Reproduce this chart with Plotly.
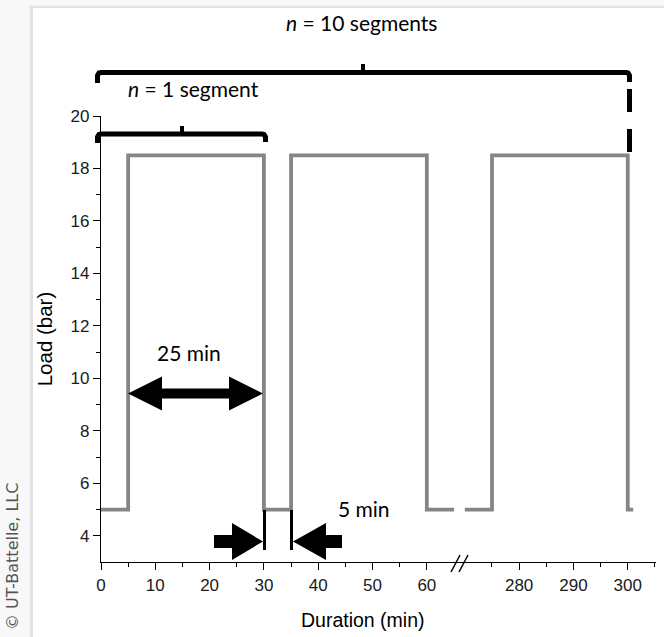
import plotly.graph_objects as go

# ---------------- data ----------------
seg1_time = [0, 5, 5, 30, 30, 35, 35, 60, 60, 65]
seg1_load = [5, 5, 18.5, 18.5, 5, 5, 18.5, 18.5, 5, 5]
seg2_time = [270, 275, 275, 300, 300, 301]
seg2_load = [5, 5, 18.5, 18.5, 5, 5]

x1_ticks = [0, 10, 20, 30, 40, 50, 60]
x1_minor = [5, 15, 25, 35, 45, 55]
x2_ticks = [280, 290, 300]
x2_minor = [275, 285, 295, 305]
y_ticks = [4, 6, 8, 10, 12, 14, 16, 18, 20]
y_minor = [5, 7, 9, 11, 13, 15, 17, 19]

x1_range = [0, 65.7]
x2_range = [268.7, 305.2]
y_range = [3, 20]

# ---------------- layout geometry ----------------
W, H = 664, 637
L, R, T, B = 101, 656, 116, 562  # plot area in pixels


def px(x):
    return (x - L) / (R - L)


def py(y):
    return (B - y) / (B - T)


def path(points, close=False):
    s = "M " + " L ".join(f"{px(x):.5f},{py(y):.5f}" for x, y in points)
    return s + (" Z" if close else "")


span1 = x1_range[1] - x1_range[0]
span2 = x2_range[1] - x2_range[0]
split = span1 / (span1 + span2)

LINE_COLOR = "#858585"

fig = go.Figure()
fig.add_trace(go.Scatter(x=seg1_time, y=seg1_load, mode="lines",
                         line=dict(color=LINE_COLOR, width=3.8),
                         xaxis="x", yaxis="y", showlegend=False, hoverinfo="skip"))
fig.add_trace(go.Scatter(x=seg2_time, y=seg2_load, mode="lines",
                         line=dict(color=LINE_COLOR, width=3.8),
                         xaxis="x2", yaxis="y", showlegend=False, hoverinfo="skip"))

tick_font = dict(family="Liberation Sans, Arial", size=17, color="#1a1a1a")
axis_common = dict(showline=True, linecolor="black", linewidth=1.2, ticks="outside",
                   ticklen=7, tickwidth=1.2, tickcolor="black", showgrid=False,
                   zeroline=False, tickfont=tick_font, fixedrange=True)

shapes = []
# background shadow of the card
shapes.append(dict(type="rect", xref="paper", yref="paper", x0=px(0), x1=px(33),
                   y0=py(H), y1=py(0), fillcolor="#f8f8f8", line=dict(width=0), layer="below"))
shapes.append(dict(type="rect", xref="paper", yref="paper", x0=px(0), x1=px(W),
                   y0=py(8), y1=py(0), fillcolor="#f8f8f8", line=dict(width=0), layer="below"))
for i, c in enumerate(["#f0f0f0", "#e8e8e8", "#e0e0e0"]):
    shapes.append(dict(type="rect", xref="paper", yref="paper", x0=px(29 + i), x1=px(33),
                       y0=py(H), y1=py(8), fillcolor=c, line=dict(width=0), layer="below"))
    shapes.append(dict(type="rect", xref="paper", yref="paper", x0=px(29), x1=px(W),
                       y0=py(8), y1=py(5 + i), fillcolor=c, line=dict(width=0), layer="below"))

blk = dict(color="black", width=5)
# big bracket (n = 10)
shapes.append(dict(type="path", xref="paper", yref="paper",
                   path=path([(97.5, 83), (97.5, 75.5), (99, 73), (101, 72.5), (626, 72.5), (628, 73), (629.5, 75.5), (629.5, 82)]),
                   line=blk))
shapes.append(dict(type="line", xref="paper", yref="paper", x0=px(363), x1=px(363),
                   y0=py(72), y1=py(64), line=dict(color="black", width=4)))
shapes.append(dict(type="line", xref="paper", yref="paper", x0=px(629.5), x1=px(629.5),
                   y0=py(89), y1=py(112), line=blk))
shapes.append(dict(type="line", xref="paper", yref="paper", x0=px(629.5), x1=px(629.5),
                   y0=py(129), y1=py(152), line=blk))
# small bracket (n = 1)
shapes.append(dict(type="path", xref="paper", yref="paper",
                   path=path([(97.5, 143), (97.5, 137), (99, 134.5), (101, 134), (262, 134), (264, 134.5), (265.5, 137), (265.5, 142)]),
                   line=blk))
shapes.append(dict(type="line", xref="paper", yref="paper", x0=px(182), x1=px(182),
                   y0=py(134), y1=py(126), line=dict(color="black", width=4)))

# double arrow (25 min)
shapes.append(dict(type="path", xref="paper", yref="paper",
                   path=path([(128, 393.5), (162, 376.5), (162, 388.5), (229, 388.5), (229, 376.5),
                              (263, 393.5), (229, 410.5), (229, 398.5), (162, 398.5), (162, 410.5)], close=True),
                   fillcolor="black", line=dict(width=0)))
# 5 min arrows
shapes.append(dict(type="path", xref="paper", yref="paper",
                   path=path([(214, 535), (232, 535), (232, 523), (263, 541.5), (232, 560), (232, 548), (214, 548)], close=True),
                   fillcolor="black", line=dict(width=0)))
shapes.append(dict(type="path", xref="paper", yref="paper",
                   path=path([(342, 535), (326, 535), (326, 523), (293, 541.5), (326, 560), (326, 548), (342, 548)], close=True),
                   fillcolor="black", line=dict(width=0)))
for xv in (264.5, 291.5):
    shapes.append(dict(type="line", xref="paper", yref="paper", x0=px(xv), x1=px(xv),
                       y0=py(510), y1=py(550), line=dict(color="black", width=3)))
# axis break mark
for dx in (0, 8):
    shapes.append(dict(type="line", xref="paper", yref="paper", x0=px(451 + dx), x1=px(460 + dx),
                       y0=py(572), y1=py(555), line=dict(color="black", width=1.5)))

cal = "Lato, Carlito, Open Sans, sans-serif"
annotations = [
    dict(text="<i>n</i> = 10 segments", x=px(361), y=py(22), font=dict(family=cal, size=21, color="black")),
    dict(text="<i>n</i> = 1 segment", x=px(193), y=py(88), font=dict(family=cal, size=21, color="black")),
    dict(text="25 min", x=px(189), y=py(352), font=dict(family=cal, size=21, color="black")),
    dict(text="5 min", x=px(364), y=py(508), font=dict(family=cal, size=21, color="black")),
    dict(text="Duration (min)", x=px(363), y=py(620), font=dict(family="Liberation Sans, Arial", size=19.5, color="black")),
    dict(text="© UT-Battelle, LLC", x=px(12), y=py(557), textangle=-90,
         font=dict(family="DejaVu Sans", size=16, color="#555555")),
]
for a in annotations:
    a.update(xref="paper", yref="paper", showarrow=False, xanchor="center", yanchor="middle")

fig.update_layout(
    width=W, height=H,
    margin=dict(l=L, r=W - R, t=T, b=H - B, pad=0),
    paper_bgcolor="white", plot_bgcolor="rgba(0,0,0,0)",
    showlegend=False,
    xaxis=dict(domain=[0, split], range=x1_range, tickmode="array", tickvals=x1_ticks,
               minor=dict(tickmode="array", tickvals=x1_minor, ticks="outside", ticklen=3.5,
                          tickwidth=1.2, tickcolor="black"),
               anchor="y", **axis_common),
    xaxis2=dict(domain=[split, 1], range=x2_range, tickmode="array", tickvals=x2_ticks,
                minor=dict(tickmode="array", tickvals=x2_minor, ticks="outside", ticklen=3.5,
                           tickwidth=1.2, tickcolor="black"),
                anchor="y", **axis_common),
    yaxis=dict(range=y_range, tickmode="array", tickvals=y_ticks,
               minor=dict(tickmode="array", tickvals=y_minor, ticks="outside", ticklen=4,
                          tickwidth=1.2, tickcolor="black"),
               anchor="x",
               title=dict(text="Load (bar)", font=dict(family="Liberation Sans, Arial", size=20.5, color="black"),
                          standoff=12),
               **axis_common),
    shapes=shapes,
    annotations=annotations,
)

fig.write_html("out.html", config={"displayModeBar": False},
               post_script="document.body.style.margin='0';document.body.style.padding='0';")
